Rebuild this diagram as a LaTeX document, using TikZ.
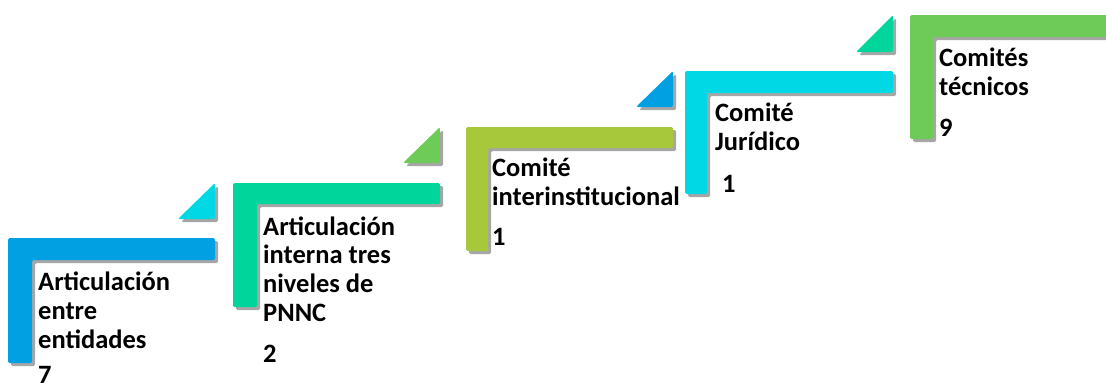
\documentclass[tikz,border=0pt]{standalone}
\usepackage{fontspec}
\setmainfont{Carlito}
\usepackage{tikz}
\usetikzlibrary{shadows}

\definecolor{azul}{RGB}{0,160,227}
\definecolor{menta}{RGB}{0,214,155}
\definecolor{oliva}{RGB}{166,200,58}
\definecolor{celeste}{RGB}{0,216,230}
\definecolor{verde}{RGB}{110,203,88}

\begin{document}
\begin{tikzpicture}[x=1pt,y=-1pt,
  escalon/.style={fill=#1,rounded corners=1.5pt,
    drop shadow={shadow xshift=3pt,shadow yshift=-3pt,fill=black,opacity=0.35}},
  rotulo/.style={anchor=base west,inner sep=0pt,align=left,
    font=\fontsize{26.5}{28.6}\selectfont\bfseries}]
\useasboundingbox (0,0) rectangle (1106,388);
\clip (0,0) rectangle (1106,388);
% escalones
\path[escalon=azul] (8,238) -- (215,238) -- (215,260) -- (32,260) -- (32,363) -- (8,363) -- cycle;
\path[escalon=menta] (233,183) -- (440,183) -- (440,204) -- (257,204) -- (257,307) -- (233,307) -- cycle;
\path[escalon=oliva] (466,127) -- (673,127) -- (673,148) -- (488,148) -- (488,251) -- (466,251) -- cycle;
\path[escalon=celeste] (685,71) -- (893,71) -- (893,93) -- (707,93) -- (707,194) -- (685,194) -- cycle;
\path[escalon=verde] (910,15) -- (1120,15) -- (1120,37) -- (933,37) -- (933,139) -- (910,139) -- cycle;
% triangulos
\path[escalon=celeste] (178,219) -- (215,219) -- (215,183) -- cycle;
\path[escalon=verde] (403,163) -- (440,163) -- (440,127) -- cycle;
\path[escalon=azul] (636,107) -- (673,107) -- (673,71) -- cycle;
\path[escalon=menta] (856,52) -- (893,52) -- (893,15) -- cycle;
% textos (base = ultima linea)
\node[rotulo] (ent) at (38,348) {Articulación\\entre\\entidades};
\node[rotulo] (ent-n) at (38,383) {7};
\node[rotulo] (int) at (263,321) {Articulación\\interna tres\\niveles de\\PNNC};
\node[rotulo] (int-n) at (263,362) {2};
\node[rotulo] (inst) at (492,205) {Comité\\interinstitucional};
\node[rotulo] (inst-n) at (492,245) {1};
\node[rotulo] (jur) at (715,150) {Comité\\Jurídico};
\node[rotulo] (jur-n) at (722,192) {1};
\node[rotulo] (tec) at (939,95) {Comités\\técnicos};
\node[rotulo] (tec-n) at (939,136) {9};
\end{tikzpicture}
\end{document}
